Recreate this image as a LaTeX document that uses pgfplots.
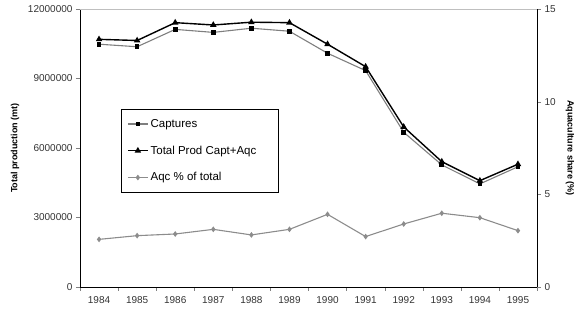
\documentclass[border=0pt]{standalone}
\usepackage{fontspec}
\setmainfont{Liberation Sans}
\usepackage{pgfplots}
\pgfplotsset{compat=1.18}
\definecolor{capgray}{HTML}{7F7F7F}
\definecolor{aqcgray}{HTML}{8C8C8C}

\pgfplotstableread{
idx year captures total aqc
0  1984 10480000 10690000 2.57
1  1985 10370000 10640000 2.77
2  1986 11120000 11410000 2.86
3  1987 10990000 11310000 3.11
4  1988 11170000 11430000 2.81
5  1989 11040000 11410000 3.11
6  1990 10090000 10480000 3.92
7  1991  9340000  9510000 2.72
8  1992  6680000  6910000 3.40
9  1993  5270000  5410000 3.98
10 1994  4450000  4590000 3.74
11 1995  5190000  5300000 3.04
}\prod

\begin{document}
\begin{tikzpicture}[font=\fontsize{10}{12}\selectfont]
\useasboundingbox (-80pt,-25pt) rectangle (503pt,287pt);
\pgfplotsset{
  base/.style={
    scale only axis, width=457pt, height=278pt,
    at={(0,0)}, anchor=south west,
    xmin=-0.5, xmax=11.5,
    tick align=outside,
    /pgf/number format/assume math mode=true,
    tick label style={font=\fontsize{10}{12}\selectfont, text=black!80},
    label style={font=\bfseries\fontsize{9}{11}\selectfont},
  }
}
\begin{axis}[base,
  axis x line*=bottom, axis y line*=left,
  ymin=0, ymax=12000000,
  ytick={0,3000000,6000000,9000000,12000000},
  scaled y ticks=false,
  yticklabel style={/pgf/number format/fixed, /pgf/number format/1000 sep={}},
  xtick={0,...,11},
  xticklabels={1984,1985,1986,1987,1988,1989,1990,1991,1992,1993,1994,1995},
  major x tick style={draw=none},
  minor xtick={-0.5,0.5,...,11.5},
  minor tick length=4pt, major tick length=4pt,
  xticklabel style={yshift=-2pt},
  ylabel={Total production (mt)},
  ylabel style={at={(axis description cs:-0.142,0.5)}, anchor=center},
  legend image code/.code={
    \draw[mark repeat=2, mark phase=2, #1]
      plot coordinates {(0pt,0pt) (10pt,0pt) (20pt,0pt)};},
  legend style={at={(0.0897,0.640)}, anchor=north west,
    draw=black, fill=white, font=\fontsize{11.5}{13}\selectfont,
    row sep=13pt, inner xsep=6pt, inner ysep=8pt},
  legend cell align=left,
]
\draw[black!25] (rel axis cs:0,1) -- (rel axis cs:1,1);
\addplot[capgray, line width=1.1pt, mark=square*, mark size=1.8pt,
  mark options={fill=black, draw=black}] table[x=idx, y=captures] {\prod};
\addlegendentry{\makebox[120pt][l]{Captures}}
\addplot[black, line width=1.4pt, mark=triangle*, mark size=2.4pt,
  mark options={fill=black, draw=black}] table[x=idx, y=total] {\prod};
\addlegendentry{\makebox[120pt][l]{Total Prod Capt+Aqc}}
\addlegendimage{aqcgray, line width=1.1pt, mark=diamond*, mark size=2pt,
  mark options={fill=aqcgray, draw=aqcgray}}
\addlegendentry{\makebox[120pt][l]{Aqc \% of total}}
\end{axis}
\begin{axis}[base,
  axis x line=none, axis y line*=right,
  ymin=0, ymax=15, ytick={0,5,10,15},
  major tick length=4pt,
  ylabel={Aquaculture share (\%)},
  ylabel style={at={(axis description cs:1.072,0.5)}, anchor=center, rotate=180},
]
\addplot[aqcgray, line width=1.1pt, mark=diamond*, mark size=2pt,
  mark options={fill=aqcgray, draw=aqcgray}] table[x=idx, y=aqc] {\prod};
\end{axis}
\end{tikzpicture}
\end{document}
